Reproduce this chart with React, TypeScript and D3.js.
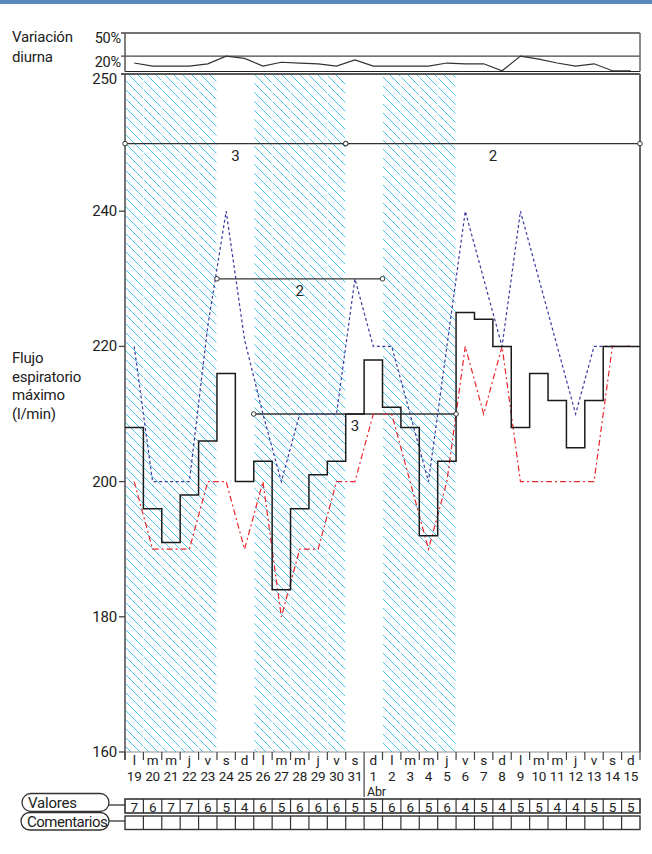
import * as d3 from "d3";

const dayLetters = ["l", "m", "m", "j", "v", "s", "d", "l", "m", "m", "j", "v", "s", "d", "l", "m", "m", "j", "v", "s", "d", "l", "m", "m", "j", "v", "s", "d"];
const dayNumbers = ["19", "20", "21", "22", "23", "24", "25", "26", "27", "28", "29", "30", "31", "1", "2", "3", "4", "5", "6", "7", "8", "9", "10", "11", "12", "13", "14", "15"];
const valores = [7, 6, 7, 7, 6, 5, 4, 6, 5, 6, 6, 6, 5, 5, 6, 6, 5, 6, 4, 5, 4, 5, 5, 4, 4, 5, 5, 5];
// best daily value (black step line)
const bestFlow = [208, 196, 191, 198, 206, 216, 200, 203, 184, 196, 201, 203, 210, 218, 211, 208, 192, 203, 225, 224, 220, 208, 216, 212, 205, 212, 220, 220];
// blue dashed
const highFlow = [220, 200, 200, 200, 223, 240, 221, 210, 200, 210, 210, 210, 230, 220, 220, 210, 200, 220, 240, 230, 220, 240, 230, 220, 210, 220, 220, 220];
// red dash-dot
const lowFlow = [200, 190, 190, 190, 200, 200, 190, 200, 180, 190, 190, 200, 200, 210, 210, 200, 190, 200, 220, 210, 220, 200, 200, 200, 200, 200, 220, 220];
// variación diurna (%)
const variation = [11, 7, 7, 7, 10, 20, 17, 7, 12, 11, 10, 7, 15, 7, 7, 7, 7, 11, 10, 10, 1, 20, 16, 11, 7, 10, 1, 1];
const hatchedDays = [0, 1, 2, 3, 4, 7, 8, 9, 10, 11, 14, 15, 16, 17];
const yTicks = [160, 180, 200, 220, 240];
const varTicks = [20, 50];
const bandLines = [
  { from: 0, to: 12, value: 250, label: "3" },
  { from: 12, to: 28, value: 250, label: "2" },
  { from: 5, to: 14, value: 230, label: "2" },
  { from: 7, to: 18, value: 210, label: "3" },
];
const monthStart = 13;

const FONT = "Roboto, 'Liberation Sans', Arial, sans-serif";

export default function App() {
  const W = 652, H = 854;
  const left = 125, right = 640;
  const plotTop = 74, plotBottom = 752;
  const x = d3.scaleLinear().domain([0, 28]).range([left, right]);
  const y = d3.scaleLinear().domain([160, 260]).range([plotBottom, 76]);
  const vy = d3.scaleLinear().domain([0, 50]).range([71.5, 33]);

  const stepPts: [number, number][] = [];
  bestFlow.forEach((v, i) => { stepPts.push([i, v]); stepPts.push([i + 1, v]); });
  const stepLine = d3.line<[number, number]>().x(d => x(d[0])).y(d => y(d[1]));
  const midLine = d3.line<number>().x((_, i) => x(i + 0.5)).y(d => y(d));
  const varLine = d3.line<number>().x((_, i) => x(i + 0.5)).y(d => vy(d));

  const colW = x(1) - x(0);
  const txt = { fill: "#222", letterSpacing: -0.2 } as const;

  return (
    <svg width={W} height={H} style={{ position: "absolute", left: 0, top: 0, background: "#fff" }} fontFamily={FONT}>
      <defs>
        <pattern id="hatch" patternUnits="userSpaceOnUse" width={9} height={9}>
          <path d="M-2,-2 L11,11 M-2,7 L2,11 M7,-2 L11,2" stroke="#52c2ee" strokeWidth={1} />
        </pattern>
      </defs>
      <rect x={0} y={0} width={W} height={4} fill="#5b89bd" />

      {/* hatched days */}
      {hatchedDays.map(i => (
        <rect key={i} x={x(i) + 0.5} y={plotTop + 1} width={colW - 1} height={plotBottom - plotTop - 1} fill="url(#hatch)" />
      ))}

      {/* variation panel */}
      <text x={12} y={42} fontSize={15} {...txt}>Variación</text>
      <text x={12} y={62} fontSize={15} {...txt}>diurna</text>
      {varTicks.map(t => (
        <g key={t}>
          <line x1={left - 4} x2={right} y1={vy(t)} y2={vy(t)} stroke="#444" strokeWidth={1.3} />
          <text x={121} y={vy(t) + (t === 50 ? 9.5 : 11)} fontSize={14.5} textAnchor="end" {...txt}>{t}%</text>
        </g>
      ))}
      <line x1={left} x2={right} y1={vy(0)} y2={vy(0)} stroke="#222" strokeWidth={1.2} />
      <line x1={left} x2={left} y1={vy(50)} y2={vy(0)} stroke="#555" strokeWidth={1.5} />
      <line x1={right} x2={right} y1={vy(50)} y2={vy(0)} stroke="#666" strokeWidth={1.5} />
      <path d={varLine(variation) || ""} fill="none" stroke="#333" strokeWidth={1.2} />

      {/* main plot frame */}
      <line x1={left - 4} x2={right} y1={plotTop} y2={plotTop} stroke="#222" strokeWidth={1.3} />
      <text x={117} y={plotTop + 10} fontSize={15} textAnchor="end" {...txt}>250</text>
      <line x1={left} x2={left} y1={plotTop} y2={plotBottom + 8} stroke="#555" strokeWidth={1.6} />
      <line x1={right} x2={right} y1={plotTop} y2={plotBottom} stroke="#666" strokeWidth={2} />
      <line x1={left} x2={right} y1={plotBottom} y2={plotBottom} stroke="#777" strokeWidth={0.8} />
      {yTicks.map(t => (
        <g key={t}>
          <line x1={left - 6} x2={left} y1={y(t)} y2={y(t)} stroke="#444" strokeWidth={1.3} />
          <text x={117} y={y(t) + 5} fontSize={15} textAnchor="end" {...txt}>{t}</text>
        </g>
      ))}

      {/* left title */}
      {["Flujo", "espiratorio", "máximo", "(l/min)"].map((s, i) => (
        <text key={s} x={12} y={363 + i * 18.7} fontSize={15} {...txt}>{s}</text>
      ))}

      {/* band lines */}
      {bandLines.map((b, i) => (
        <g key={i}>
          <line x1={x(b.from)} x2={x(b.to)} y1={y(b.value)} y2={y(b.value)} stroke="#333" strokeWidth={1.3} />
          <text x={(x(b.from) + x(b.to)) / 2} y={y(b.value) + 17} fontSize={15} textAnchor="middle" {...txt}>{b.label}</text>
        </g>
      ))}

      {/* series */}
      <path d={midLine(lowFlow) || ""} fill="none" stroke="#e8262d" strokeWidth={1.2} strokeDasharray="6,3,2,3" />
      <path d={midLine(highFlow) || ""} fill="none" stroke="#3b3b9e" strokeWidth={1.2} strokeDasharray="3,2.5" />
      <path d={stepLine(stepPts) || ""} fill="none" stroke="#1a1a1a" strokeWidth={1.5} />

      {bandLines.map((b, i) => (
        <g key={"c" + i}>
          <circle cx={x(b.from)} cy={y(b.value)} r={2.3} fill="#fff" stroke="#333" strokeWidth={1} />
          <circle cx={x(b.to)} cy={y(b.value)} r={2.3} fill="#fff" stroke="#333" strokeWidth={1} />
        </g>
      ))}

      {/* x axis */}
      {d3.range(0, 29).map(i => (
        <line key={i} x1={x(i)} x2={x(i)} y1={plotBottom} y2={i === monthStart ? 797 : plotBottom + 8} stroke="#444" strokeWidth={1.2} />
      ))}
      {dayLetters.map((s, i) => (
        <text key={"l" + i} x={x(i + 0.5)} y={764.5} fontSize={13.5} textAnchor="middle" {...txt}>{s}</text>
      ))}
      {dayNumbers.map((s, i) => (
        <text key={"n" + i} x={x(i + 0.5)} y={780.5} fontSize={13.5} textAnchor="middle" {...txt}>{s}</text>
      ))}
      <text x={x(monthStart) + 3} y={795.5} fontSize={12.5} {...txt}>Abr</text>

      {/* table */}
      <rect x={22} y={793.5} width={87} height={18} rx={9} fill="#fff" stroke="#333" strokeWidth={1.3} />
      <text x={28} y={808} fontSize={15} {...txt}>Valores</text>
      <line x1={109} x2={left} y1={805} y2={805} stroke="#333" strokeWidth={1.3} />
      <rect x={21} y={812.5} width={88} height={17.5} rx={8.75} fill="#fff" stroke="#333" strokeWidth={1.3} />
      <text x={27} y={826.5} fontSize={15} {...txt} letterSpacing={-0.5}>Comentarios</text>
      <line x1={109} x2={left} y1={821} y2={821} stroke="#333" strokeWidth={1.3} />

      <rect x={left} y={799} width={right - left} height={14} fill="none" stroke="#333" strokeWidth={1.6} />
      <rect x={left} y={816} width={right - left} height={13.5} fill="none" stroke="#333" strokeWidth={1.4} />
      {d3.range(1, 28).map(i => (
        <g key={"t" + i}>
          <line x1={x(i)} x2={x(i)} y1={799} y2={813} stroke="#333" strokeWidth={1.2} />
          <line x1={x(i)} x2={x(i)} y1={816} y2={829.5} stroke="#333" strokeWidth={1.2} />
        </g>
      ))}
      {valores.map((v, i) => (
        <text key={"v" + i} x={x(i + 0.5)} y={811.5} fontSize={13.5} textAnchor="middle" {...txt}>{v}</text>
      ))}
    </svg>
  );
}
